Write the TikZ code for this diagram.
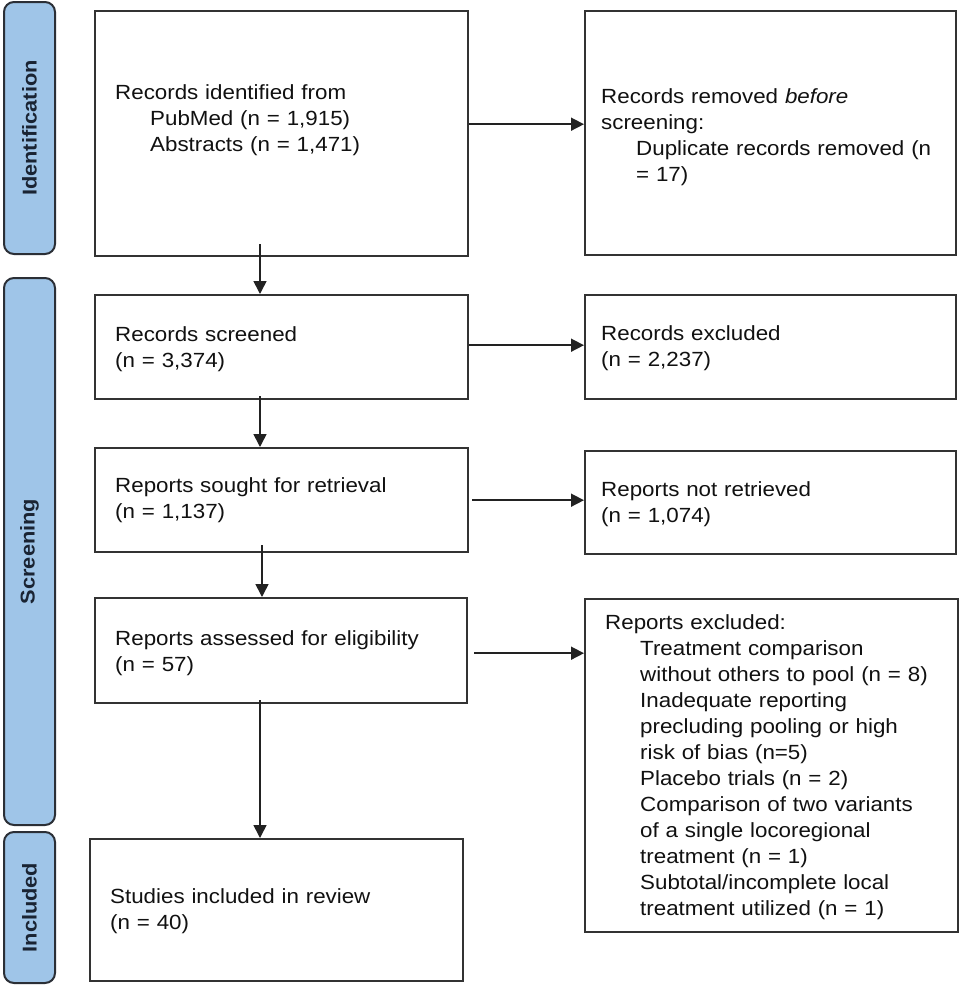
\documentclass[tikz,border=0pt]{standalone}
\usepackage{fontspec}
\setmainfont{Liberation Sans}[FakeStretch=1.09]
\usetikzlibrary{arrows.meta}
\definecolor{barfill}{HTML}{9FC5E8}
\definecolor{barline}{HTML}{2B2F36}
\definecolor{boxline}{HTML}{333333}
\definecolor{arrowc}{HTML}{222222}
\definecolor{txtc}{HTML}{111111}
\definecolor{barTxt}{HTML}{1A2433}
\tikzset{
  bar/.style={draw=barline, fill=barfill, line width=2pt, rounded corners=10pt,
    rotate=90, minimum height=51pt, inner sep=0pt, text=barTxt,
    font=\fontsize{20}{24}\selectfont\bfseries},
  box/.style={draw=boxline, line width=2.4pt, anchor=north west, inner sep=0pt},
  txt/.style={anchor=base west, inner sep=0pt, text width=345pt, align=left,
    text=txtc, font=\fontsize{20.5}{26}\selectfont},
  arr/.style={draw=arrowc, line width=1.6pt, -{Triangle[length=13pt,width=13pt]}}
}
\newcommand{\ind}{\hspace*{35pt}}
\begin{document}
\begin{tikzpicture}[x=1pt,y=-1pt]
\useasboundingbox (0,0) rectangle (960,988);
\fill[white] (0,0) rectangle (960,988);
% phase bars
\node[bar, minimum width=252pt] (sid) at (29.5,128) {Identification};
\node[bar, minimum width=547pt] (sscr) at (29.5,551.5) {Screening};
\node[bar, minimum width=151pt] (sinc) at (29.5,907.5) {Included};
% boxes
\node[box, minimum width=373pt, minimum height=245pt] (b1) at (94,10) {};
\node[box, minimum width=371pt, minimum height=244pt] (r1) at (584,10) {};
\node[box, minimum width=373pt, minimum height=104pt] (b2) at (94,294) {};
\node[box, minimum width=371pt, minimum height=104pt] (r2) at (584,294) {};
\node[box, minimum width=373pt, minimum height=104pt] (b3) at (94,447) {};
\node[box, minimum width=371pt, minimum height=103pt] (r3) at (584,450) {};
\node[box, minimum width=372pt, minimum height=105pt] (b4) at (94,597) {};
\node[box, minimum width=373pt, minimum height=333pt] (r4) at (584,598) {};
\node[box, minimum width=373pt, minimum height=142pt] (b5) at (89,838) {};
% texts
\node[txt] (t1) at (115,99) {Records identified from\\\ind PubMed (n = 1,915)\\\ind Abstracts (n = 1,471)};
\node[txt] (u1) at (601,103) {Records removed \textit{before}\\screening:\\\ind Duplicate records removed (n\\\ind = 17)};
\node[txt] (t2) at (115,341) {Records screened\\(n = 3,374)};
\node[txt] (u2) at (601,340) {Records excluded\\(n = 2,237)};
\node[txt] (t3) at (115,492) {Reports sought for retrieval\\(n = 1,137)};
\node[txt] (u3) at (601,496) {Reports not retrieved\\(n = 1,074)};
\node[txt] (t4) at (115,645) {Reports assessed for eligibility\\(n = 57)};
\node[txt] (u4) at (605,629) {Reports excluded:\\
\ind Treatment comparison\\
\ind without others to pool (n = 8)\\
\ind Inadequate reporting\\
\ind precluding pooling or high\\
\ind risk of bias (n=5)\\
\ind Placebo trials (n = 2)\\
\ind Comparison of two variants\\
\ind of a single locoregional\\
\ind treatment (n = 1)\\
\ind Subtotal/incomplete local\\
\ind treatment utilized (n = 1)};
\node[txt] (t5) at (110,903) {Studies included in review\\(n = 40)};
% arrows
\coordinate (ax) at (260,0);
\coordinate (ax2) at (262,0);
\draw[arr] ([yshift=13pt]b1.south -| ax) -- (b2.north -| ax);
\draw[arr] ([yshift=4pt]b2.south -| ax) -- (b3.north -| ax);
\draw[arr] ([yshift=8pt]b3.south -| ax2) -- (b4.north -| ax2);
\draw[arr] ([yshift=4pt]b4.south -| ax) -- (b5.north -| ax);
\draw[arr] ([yshift=9.5pt]b1.east) -- ([yshift=9.5pt]b1.east -| r1.west);
\draw[arr] ([yshift=2pt]b2.east) -- ([yshift=2pt]b2.east -| r2.west);
\draw[arr] ([xshift=3pt]b3.east) -- (b3.east -| r3.west);
\draw[arr] ([xshift=6pt,yshift=-2.5pt]b4.east) -- ([yshift=-2.5pt]b4.east -| r4.west);
\end{tikzpicture}
\end{document}
